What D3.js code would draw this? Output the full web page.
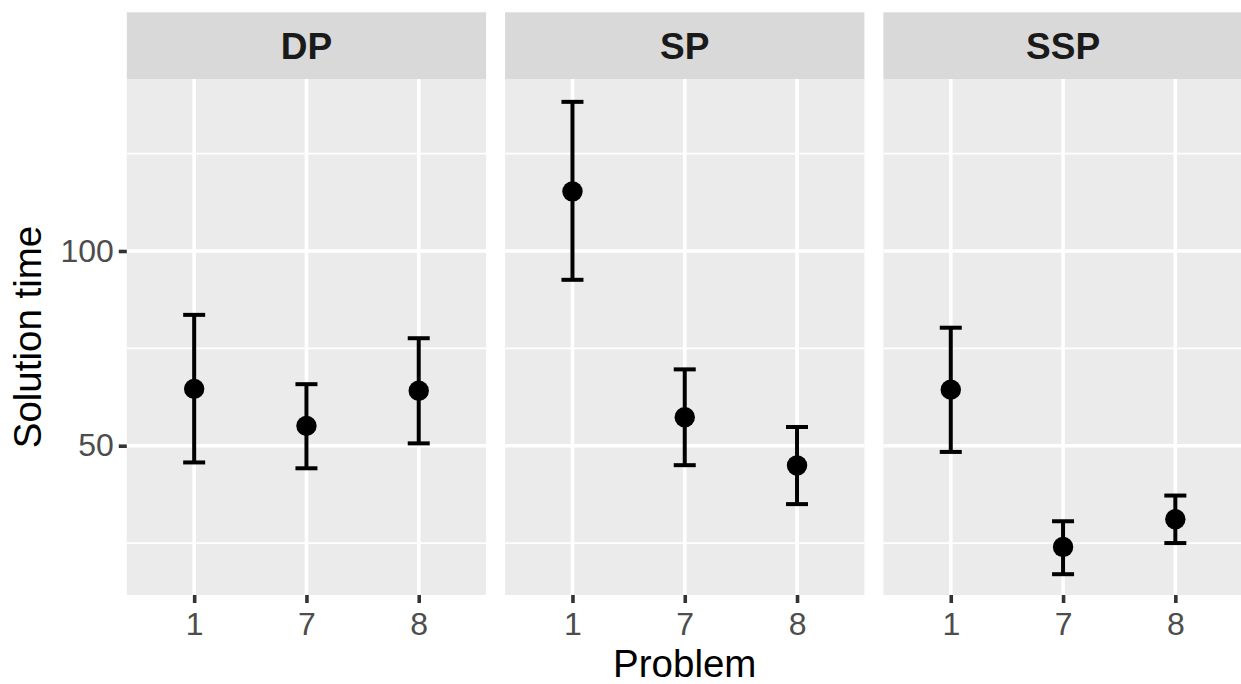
<!DOCTYPE html>
<html>
<head>
<meta charset="utf-8">
<script src="https://cdn.jsdelivr.net/npm/d3@7"></script>
<style>
  body { margin: 0; background: #fff; }
  svg { display: block; font-family: "Liberation Sans", Arial, Helvetica, sans-serif; }
</style>
</head>
<body>
<div id="chart"></div>
<script>
// data
const facets = ['DP', 'SP', 'SSP'];
const problems = ['1', '7', '8'];
const yTicks = [50, 100];
const yMinor = [25, 75, 125];

const dpMean = [64.6, 55.1, 64.1];
const dpLow = [45.7, 44.2, 50.6];
const dpHigh = [83.6, 65.8, 77.6];

const spMean = [115.3, 57.3, 44.9];
const spLow = [92.6, 45.0, 35.0];
const spHigh = [138.3, 69.6, 54.8];

const sspMean = [64.4, 24.0, 31.1];
const sspLow = [48.4, 17.0, 25.0];
const sspHigh = [80.3, 30.6, 37.2];

const means = [dpMean, spMean, sspMean];
const lows = [dpLow, spLow, sspLow];
const highs = [dpHigh, spHigh, sspHigh];

const width = 1241, height = 684;
const panelLeft = 126.8, panelW = 359.3, gap = 19;
const stripTop = 12.3, panelTop = 79, panelBottom = 595;

const svg = d3.select('#chart').append('svg')
  .attr('width', width)
  .attr('height', height);

const xPanel = d3.scaleBand()
  .domain(facets)
  .range([panelLeft, panelLeft + 3 * panelW + 2 * gap])
  .paddingInner(gap / (panelW + gap));

const x = d3.scalePoint()
  .domain(problems)
  .range([0, panelW])
  .padding(0.6);

const y = d3.scaleLinear()
  .domain([11.66, 144.17])
  .range([panelBottom, panelTop]);

facets.forEach((f, i) => {
  const g = svg.append('g')
    .attr('transform', `translate(${xPanel(f)},0)`);

  // strip
  g.append('rect')
    .attr('x', 0).attr('y', stripTop)
    .attr('width', panelW).attr('height', panelTop - stripTop)
    .attr('fill', '#d9d9d9');
  g.append('text')
    .attr('x', panelW / 2)
    .attr('y', (stripTop + panelTop) / 2 + 13)
    .attr('text-anchor', 'middle')
    .attr('font-weight', 'bold')
    .attr('font-size', 37)
    .attr('fill', '#1a1a1a')
    .text(f);

  // panel background
  g.append('rect')
    .attr('x', 0).attr('y', panelTop)
    .attr('width', panelW).attr('height', panelBottom - panelTop)
    .attr('fill', '#ebebeb');

  g.selectAll('.minor')
    .data(yMinor)
    .enter().append('line')
    .attr('x1', 0).attr('x2', panelW)
    .attr('y1', d => y(d)).attr('y2', d => y(d))
    .attr('stroke', '#fff').attr('stroke-width', 1.8);

  g.selectAll('.major')
    .data(yTicks)
    .enter().append('line')
    .attr('x1', 0).attr('x2', panelW)
    .attr('y1', d => y(d)).attr('y2', d => y(d))
    .attr('stroke', '#fff').attr('stroke-width', 3.6);

  g.selectAll('.vgrid')
    .data(problems)
    .enter().append('line')
    .attr('x1', d => x(d)).attr('x2', d => x(d))
    .attr('y1', panelTop).attr('y2', panelBottom)
    .attr('stroke', '#fff').attr('stroke-width', 3.6);

  const rows = problems.map((p, j) => ({
    p: p, mean: means[i][j], lo: lows[i][j], hi: highs[i][j]
  }));

  // error bars
  const eb = g.selectAll('.eb').data(rows).enter().append('g');
  eb.append('line')
    .attr('x1', d => x(d.p)).attr('x2', d => x(d.p))
    .attr('y1', d => y(d.lo)).attr('y2', d => y(d.hi))
    .attr('stroke', '#000').attr('stroke-width', 4);
  eb.append('line')
    .attr('x1', d => x(d.p) - 11).attr('x2', d => x(d.p) + 11)
    .attr('y1', d => y(d.hi)).attr('y2', d => y(d.hi))
    .attr('stroke', '#000').attr('stroke-width', 4);
  eb.append('line')
    .attr('x1', d => x(d.p) - 11).attr('x2', d => x(d.p) + 11)
    .attr('y1', d => y(d.lo)).attr('y2', d => y(d.lo))
    .attr('stroke', '#000').attr('stroke-width', 4);
  eb.append('circle')
    .attr('cx', d => x(d.p))
    .attr('cy', d => y(d.mean))
    .attr('r', 10.2)
    .attr('fill', '#000');

  // x axis
  const xa = g.append('g')
    .attr('transform', `translate(0,${panelBottom})`)
    .call(d3.axisBottom(x).tickSize(8).tickPadding(9));
  xa.select('.domain').remove();
  xa.selectAll('line').attr('stroke', '#333').attr('stroke-width', 3.6);
  xa.selectAll('text')
    .attr('font-size', 32)
    .attr('fill', '#4d4d4d')
    .attr('font-family', '"Liberation Sans", Arial, sans-serif');
});

// y axis (left panel only)
const ya = svg.append('g')
  .attr('transform', `translate(${panelLeft},0)`)
  .call(d3.axisLeft(y).tickValues(yTicks).tickSize(8).tickPadding(5));
ya.select('.domain').remove();
ya.selectAll('line').attr('stroke', '#333').attr('stroke-width', 3.6);
ya.selectAll('text')
  .attr('font-size', 32)
  .attr('fill', '#4d4d4d')
  .attr('font-family', '"Liberation Sans", Arial, sans-serif');

// axis titles
svg.append('text')
  .attr('x', xPanel('SP') + panelW / 2)
  .attr('y', 677)
  .attr('text-anchor', 'middle')
  .attr('font-size', 38.5)
  .attr('fill', '#000')
  .text('Problem');

svg.append('text')
  .attr('transform', `translate(41,${(panelTop + panelBottom) / 2}) rotate(-90)`)
  .attr('text-anchor', 'middle')
  .attr('font-size', 38.5)
  .attr('fill', '#000')
  .text('Solution time');
</script>
</body>
</html>
